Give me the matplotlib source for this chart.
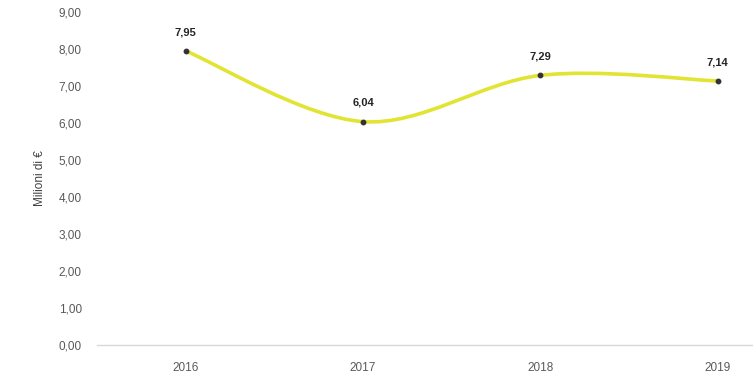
import matplotlib.pyplot as plt
from matplotlib.path import Path
from matplotlib.patches import PathPatch

anni = ['2016', '2017', '2018', '2019']
valori = [7.95, 6.04, 7.29, 7.14]
etichette = ['7,95', '6,04', '7,29', '7,14']
y_ticks = [0, 1, 2, 3, 4, 5, 6, 7, 8, 9]

plt.rcParams['font.family'] = ['Liberation Sans Narrow', 'Liberation Sans', 'DejaVu Sans']


def curva_smussata(xs, ys, t=1/6):
    """Curva tipo Excel (Bezier cubiche) passante per i punti"""
    n = len(xs)
    verts = [(xs[0], ys[0])]
    codes = [Path.MOVETO]
    for i in range(n - 1):
        x0, y0 = (xs[i - 1], ys[i - 1]) if i > 0 else (xs[i], ys[i])
        x3, y3 = (xs[i + 2], ys[i + 2]) if i + 2 < n else (xs[i + 1], ys[i + 1])
        x1, y1 = xs[i], ys[i]
        x2, y2 = xs[i + 1], ys[i + 1]
        c1 = (x1 + (x2 - x0) * t, y1 + (y2 - y0) * t)
        c2 = (x2 - (x3 - x1) * t, y2 - (y3 - y1) * t)
        verts += [c1, c2, (x2, y2)]
        codes += [Path.CURVE4] * 3
    return Path(verts, codes)


fig = plt.figure(figsize=(7.53, 3.80), dpi=100)
ax = fig.add_axes([0.129, 0.092, 0.871, 0.876])

xs = list(range(len(anni)))
ax.add_patch(PathPatch(curva_smussata(xs, valori), fill=False,
                       edgecolor='#e2e434', linewidth=2.6, zorder=2))
ax.plot(xs, valori, 'o', color='#333333', markersize=3.2, zorder=3)

for x, v, lab in zip(xs, valori, etichette):
    ax.annotate(lab, (x, v), xytext=(0, 10), textcoords='offset points',
                ha='center', va='bottom', fontsize=8, fontweight='bold',
                color='#262626')

ax.set_xlim(-0.5, 3.2)
ax.set_ylim(0, 9)
ax.set_xticks(xs)
ax.set_xticklabels(anni)
ax.set_yticks(y_ticks)
ax.set_yticklabels([('%.2f' % v).replace('.', ',') for v in y_ticks])
ax.tick_params(axis='both', length=0, labelsize=8.5, colors='#595959')
ax.tick_params(axis='y', pad=11)
ax.tick_params(axis='x', pad=12)
ax.set_ylabel('Milioni di €', fontsize=8.5, color='#404040', labelpad=9)

for s in ['top', 'right', 'left']:
    ax.spines[s].set_visible(False)
ax.spines['bottom'].set_color('#d9d9d9')
ax.spines['bottom'].set_linewidth(1.0)

fig.savefig('out.png', dpi=100)
